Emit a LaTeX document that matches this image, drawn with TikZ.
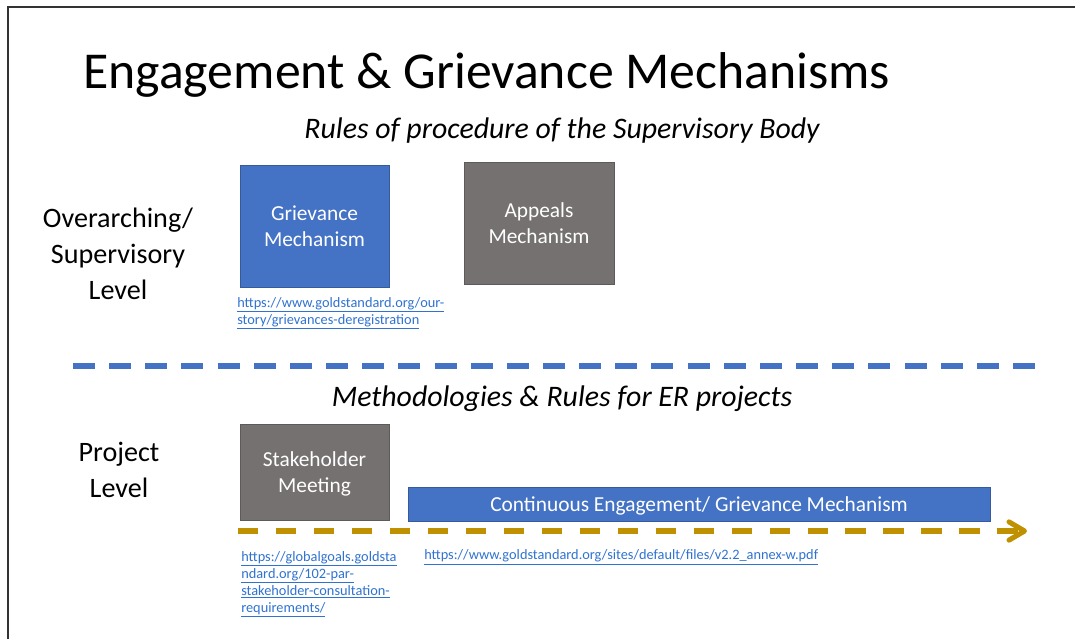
\documentclass[tikz,border=0pt]{standalone}
\usepackage{fontspec}
\setmainfont{Carlito}
\usepackage{tikz}
\usetikzlibrary{arrows,arrows.meta,positioning}
\definecolor{boxblue}{HTML}{4472C4}
\definecolor{boxgrey}{HTML}{767171}
\definecolor{gold}{HTML}{BF9000}
\definecolor{linkblue}{HTML}{2F72D0}
\newcommand{\lnk}[1]{\underline{#1}}
\tikzstyle{bb} = [rectangle, fill=boxblue, draw=boxblue!80!black, line width=0.4pt, text=white, align=center, font=\fontsize{15.2}{18.5}\selectfont, inner sep=0pt]
\tikzstyle{gb} = [rectangle, fill=boxgrey, draw=boxgrey!80!black, line width=0.4pt, text=white, align=center, font=\fontsize{15.2}{18.5}\selectfont, inner sep=0pt]
\tikzstyle{url} = [linkblue, align=left, inner sep=0pt, font=\fontsize{10.2}{12.1}\selectfont]
\tikzstyle{side} = [align=center, inner sep=0pt, font=\fontsize{20}{25.6}\selectfont]
\tikzstyle{sub} = [inner sep=0pt, font=\fontsize{21.2}{24}\selectfont\itshape]
\tikzstyle{sep} = [boxblue, line width=3.6pt, dash pattern=on 15.65pt off 10.06pt]
\tikzstyle{time} = [gold, line width=3.6pt, dash pattern=on 14.5pt off 12.5pt, -{Straight Barb[length=11pt,width=13pt,round]}]

\begin{document}
\begin{tikzpicture}[x=0.025cm, y=-0.025cm]
		\useasboundingbox (0,0) rectangle (1075,639);
		\draw[black!80, line width=1.1pt] (8,639) -- (8,7) -- (1075,7);

		\node[anchor=base west, inner sep=0pt, font=\fontsize{36.8}{44}\selectfont] (title) at (83,88) {Engagement \& Grievance Mechanisms};
		\node[sub, anchor=base] (rules) at (562,138) {Rules of procedure of the Supervisory Body};
		\node[side] (over) at (118,254) {Overarching/\\Supervisory\\Level};

		\node[bb, minimum width=3.725cm, minimum height=3.05cm] (griev) at (314.5,226) {Grievance\\Mechanism};
		\node[gb, minimum width=3.75cm, minimum height=3.05cm] (appeal) at (539,223) {Appeals\\Mechanism};
		\node[url, anchor=north west] (url1) at (237,297) {\lnk{https://www.goldstandard.org/our-}\\\lnk{story/grievances-deregistration}};

		\coordinate (s1) at (73,366);
		\coordinate (s2) at (1035,366);
		\draw[sep] (s1) -- (s2);

		\node[sub, anchor=base] (meth) at (562,406) {Methodologies \& Rules for ER projects};
		\node[side] (proj) at (119,470) {Project\\Level};

		\node[gb, text depth=0pt, minimum width=3.725cm, minimum height=2.4cm] (stake) at (314.5,472) {Stakeholder\\Meeting};
		\node[bb, text depth=0pt, minimum width=14.55cm, minimum height=0.85cm] (cont) at (699,504) {Continuous Engagement/ Grievance Mechanism};

		\coordinate (t1) at (238,531);
		\coordinate (t2) at (1027,531);
		\draw[time] (t1) -- (t2);

		\node[url, anchor=north west] (url2) at (241,551) {\lnk{https://globalgoals.goldsta}\\\lnk{ndard.org/102-par-}\\\lnk{stakeholder-consultation-}\\\lnk{requirements/}};
		\node[url, anchor=west] (url3) at (424,557) {\lnk{https://www.goldstandard.org/sites/default/files/v2.2\_annex-w.pdf}};
	\end{tikzpicture}
\end{document}
